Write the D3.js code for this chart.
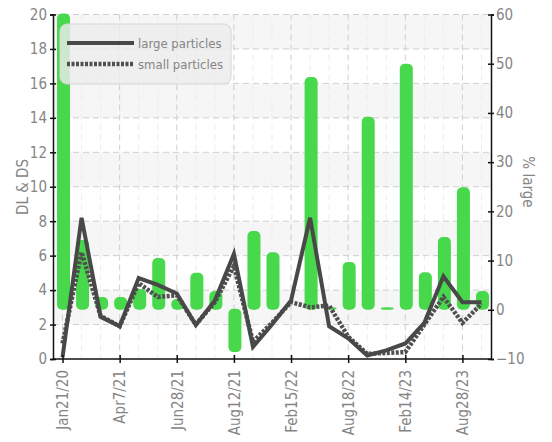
<!DOCTYPE html>
<html>
<head>
<meta charset="utf-8">
<script src="https://cdn.jsdelivr.net/npm/d3@7"></script>
<style>
  body { margin: 0; background: #fff; }
  svg text { font-family: "Liberation Sans Narrow", "DejaVu Sans Condensed", sans-serif; fill: #858585; }
</style>
</head>
<body>
<svg id="chart" width="552" height="442"></svg>
<script>
// labels shown under every third sample
const tickLabels = ["Jan21/20", "Apr7/21", "Jun28/21", "Aug12/21", "Feb15/22", "Aug18/22", "Feb14/23", "Aug28/23"];
const tickSamples = [0, 3, 6, 9, 12, 15, 18, 21];

// % large (right axis, green bars)
const pctLarge = [60, 14, 2.4, 2.4, 4, 10.3, 2, 7.3, 3.6, -8.6, 15.8, 11.5, 0, 47.1, 0.3, 9.5, 39, 0.3, 49.8, 7.4, 14.6, 24.7, 3.6];
// DL : large particles (left axis, solid)
const largeParticles = [0.1, 8.2, 2.45, 1.9, 4.7, 4.3, 3.8, 1.97, 3.4, 6.1, 0.7, 2.0, 3.4, 8.2, 1.9, 1.2, 0.2, 0.5, 0.9, 2.1, 4.8, 3.3, 3.3];
// DS : small particles (left axis, dotted)
const smallParticles = [0.9, 6.2, 2.5, 1.9, 4.4, 3.6, 3.7, 2.0, 3.3, 5.4, 1.0, 2.1, 3.3, 3.0, 3.1, 1.3, 0.3, 0.35, 0.4, 2.0, 3.6, 2.1, 3.2];

const leftTicks = [0, 2, 4, 6, 8, 10, 12, 14, 16, 18, 20];
const rightTicks = [-10, 0, 10, 20, 30, 40, 50, 60];

//*** cadre ***/
const gauche = 53, droite = 491, haut = 14.5, bas = 359;
const svg = d3.select("#chart");

const samples = d3.range(pctLarge.length);
const x = d3.scalePoint().domain(samples).range([gauche, droite]).padding(0.5);
const yL = d3.scaleLinear().domain([0, 20]).range([bas, haut]);
const yR = d3.scaleLinear().domain([-10, 60]).range([bas, haut]);

// bandes grises alternées
svg.append("g")
  .selectAll("rect")
  .data(leftTicks.slice(0, -1).filter((d, i) => i % 2 === 1))
  .join("rect")
  .attr("x", gauche)
  .attr("width", droite - gauche)
  .attr("y", d => yL(d + 2))
  .attr("height", d => yL(d) - yL(d + 2))
  .attr("fill", "#f6f6f6");

// grille verticale fine (chaque échantillon)
svg.append("g")
  .selectAll("line")
  .data(samples.filter(i => !tickSamples.includes(i)))
  .join("line")
  .attr("x1", d => x(d)).attr("x2", d => x(d))
  .attr("y1", haut).attr("y2", bas)
  .attr("stroke", "#ededed")
  .attr("stroke-dasharray", "6,4");

// grille verticale principale
svg.append("g")
  .selectAll("line")
  .data(tickSamples)
  .join("line")
  .attr("x1", d => x(d)).attr("x2", d => x(d))
  .attr("y1", haut).attr("y2", bas)
  .attr("stroke", "#cfcfcf")
  .attr("stroke-dasharray", "6,4");

// grille horizontale
svg.append("g")
  .selectAll("line")
  .data(leftTicks.slice(1))
  .join("line")
  .attr("x1", gauche).attr("x2", droite)
  .attr("y1", d => yL(d)).attr("y2", d => yL(d))
  .attr("stroke", "#cfcfcf")
  .attr("stroke-dasharray", "6,4");

//*** barres % large ***/
svg.append("g")
  .selectAll("rect")
  .data(pctLarge)
  .join("rect")
  .attr("x", (d, i) => x(i) - 5.5)
  .attr("width", 13)
  .attr("y", d => Math.min(yR(d), yR(0)) - 1)
  .attr("height", d => Math.abs(yR(d) - yR(0)) + (d === 0 ? 0 : 1))
  .attr("rx", 5)
  .attr("fill", "#47d84b");

//*** lignes ***/
const ligne = d3.line().x((d, i) => x(i)).y(d => yL(d));

svg.append("path")
  .datum(smallParticles)
  .attr("d", ligne)
  .attr("fill", "none")
  .attr("stroke", "#505050")
  .attr("stroke-width", 4.5)
  .attr("stroke-dasharray", "3,1.5");

svg.append("path")
  .datum(largeParticles)
  .attr("d", ligne)
  .attr("fill", "none")
  .attr("stroke", "#484848")
  .attr("stroke-width", 4);

//*** axes ***/
const styleAxe = (g) => {
  g.select(".domain").attr("stroke", "#111").attr("stroke-width", 1.5);
  g.selectAll(".tick line").attr("stroke", "#111").attr("stroke-width", 1.5);
  g.selectAll(".tick text").attr("fill", "#858585").style("font-size", "15px");
};

const axeG = svg.append("g").attr("transform", `translate(${gauche},0)`)
  .call(d3.axisLeft(yL).tickValues(leftTicks).tickSizeOuter(0).tickSize(3).tickPadding(3));
axeG.selectAll(".tick line").attr("x1", 3).attr("x2", -3);
styleAxe(axeG);

const axeD = svg.append("g").attr("transform", `translate(${droite},0)`)
  .call(d3.axisRight(yR).tickValues(rightTicks).tickSizeOuter(0).tickSize(3).tickPadding(2));
axeD.selectAll(".tick line").attr("x1", -3).attr("x2", 3);
styleAxe(axeD);

const axeB = svg.append("g").attr("transform", `translate(0,${bas})`)
  .call(d3.axisBottom(x).tickValues(tickSamples).tickSizeOuter(0).tickSize(4)
    .tickFormat((d) => tickLabels[tickSamples.indexOf(d)]));
axeB.select(".domain").attr("d", `M${gauche},0H${droite}`);
axeB.selectAll(".tick line").attr("y1", -4).attr("y2", 4);
styleAxe(axeB);
axeB.selectAll(".tick text")
  .attr("transform", "rotate(-90)")
  .attr("x", -11)
  .attr("y", 0)
  .attr("dy", "0.35em")
  .style("text-anchor", "end");

// titres des axes
svg.append("text")
  .attr("transform", "translate(28,187) rotate(-90)")
  .attr("text-anchor", "middle")
  .style("font-size", "15px")
  .text("DL & DS");

svg.append("text")
  .attr("transform", "translate(523,182) rotate(90)")
  .attr("text-anchor", "middle")
  .style("font-size", "15px")
  .text("% large");

//*** légende ***/
const legende = svg.append("g");
legende.append("rect")
  .attr("x", 60).attr("y", 24)
  .attr("width", 171).attr("height", 60)
  .attr("rx", 7)
  .attr("fill", "#ececec")
  .attr("fill-opacity", 0.82)
  .attr("stroke", "#d6d6d6");

legende.append("line")
  .attr("x1", 67).attr("x2", 134).attr("y1", 43).attr("y2", 43)
  .attr("stroke", "#484848").attr("stroke-width", 4);
legende.append("line")
  .attr("x1", 67).attr("x2", 134).attr("y1", 64).attr("y2", 64)
  .attr("stroke", "#505050").attr("stroke-width", 4.5).attr("stroke-dasharray", "3,1.5");

legende.append("text").attr("x", 138).attr("y", 48).style("font-size", "13px").text("large particles");
legende.append("text").attr("x", 138).attr("y", 69).style("font-size", "13px").text("small particles");
</script>
</body>
</html>
